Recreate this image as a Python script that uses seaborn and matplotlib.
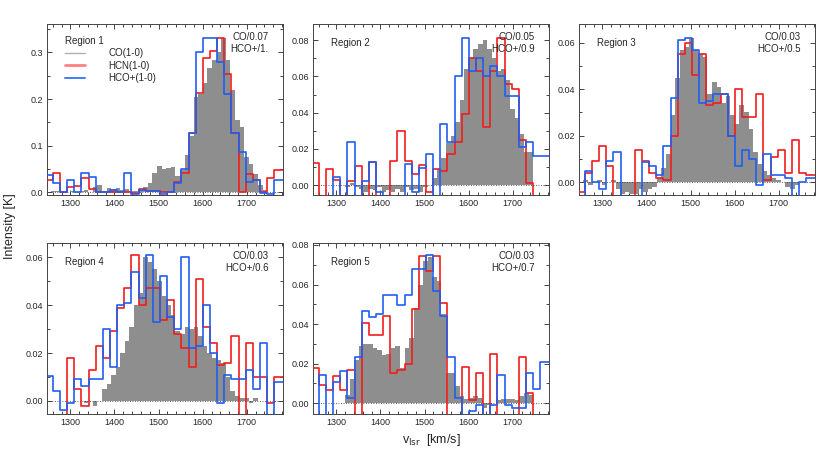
import numpy as np
import pandas as pd
import matplotlib
matplotlib.use('Agg')
import matplotlib.pyplot as plt
from matplotlib.lines import Line2D
from matplotlib.ticker import MultipleLocator, FormatStrFormatter
import seaborn as sns

# channel grids in km/s (HCN/HCO+ cube and CO cube)
hcn_edges = 1244.0 + 16.2 * np.arange(35)
hcn_v = hcn_edges[:-1] + 8.1
co_edges = 1246.8 + 10.4 * np.arange(49)
co_v = co_edges[:-1] + 5.2

# Region 1
co_1 = [0.002, 0.003, 0.004, 0.002, 0.001, 0.003, 0.002, 0.004, 0.006, 0.002, 0.012, 0.015,
        0.004, 0.010, 0.008, 0.009, 0.006, 0.007, 0.004, 0.003, 0.006, 0.012, 0.020, 0.042,
        0.056, 0.050, 0.053, 0.055, 0.035, 0.048, 0.080, 0.120, 0.205, 0.210, 0.235, 0.266,
        0.283, 0.300, 0.330, 0.284, 0.220, 0.155, 0.140, 0.077, 0.062, 0.040, 0.016, 0.006]
hcn_1 = [0.026, 0.041, 0.002, 0.011, 0.013, 0.030, 0.008, 0.000, 0.000, 0.000, 0.001, 0.000,
         -0.002, 0.008, 0.004, 0.003, 0.000, 0.000, 0.023, 0.041, 0.127, 0.213, 0.288, 0.304,
         0.330, 0.254, 0.128, 0.002, 0.040, 0.026, 0.000, 0.030, 0.049, 0.049]
hcop_1 = [0.037, 0.021, 0.000, 0.027, 0.001, 0.042, 0.034, 0.001, 0.000, 0.006, 0.000, 0.041,
          -0.003, 0.005, 0.004, 0.003, -0.003, 0.000, 0.020, 0.050, 0.127, 0.300, 0.330, 0.330,
          0.280, 0.210, 0.128, 0.087, 0.023, 0.026, -0.002, -0.003, 0.026, 0.026]

# Region 2
co_2 = [0.0, 0.0, 0.0, 0.0, 0.0, 0.0, 0.0, -0.001, 0.001, -0.001, -0.002, -0.004,
        -0.002, -0.003, -0.001, -0.004, -0.003, -0.004, -0.002, -0.004, -0.001, -0.003, -0.002, -0.004,
        -0.001, 0.000, 0.004, 0.009, 0.015, 0.023, 0.027, 0.035, 0.047, 0.064, 0.070, 0.075,
        0.078, 0.080, 0.075, 0.070, 0.063, 0.064, 0.058, 0.042, 0.037, 0.028, 0.018, 0.018]
hcn_2 = [0.012, -0.008, 0.009, 0.003, -0.008, 0.002, 0.0105, -0.006, 0.0125, -0.008, -0.008, 0.0135,
         0.030, 0.0135, 0.006, 0.011, -0.004, 0.009, 0.008, 0.017, 0.024, 0.039, 0.070, 0.063,
         0.032, 0.063, 0.081, 0.056, 0.053, 0.025, 0.001, -0.008, -0.008, -0.008]
hcop_2 = [-0.008, -0.008, -0.006, 0.0045, -0.008, 0.024, -0.006, 0.002, 0.0125, -0.004, -0.008, -0.008,
          -0.008, 0.0115, -0.004, 0.0095, 0.017, -0.008, 0.034, 0.024, 0.060, 0.081, 0.063, 0.070,
          0.060, 0.066, 0.060, 0.049, 0.049, 0.021, 0.024, 0.016, 0.016, 0.016]

# Region 3
co_3 = [0.0, 0.001, -0.001, 0.0, 0.001, -0.001, 0.0, 0.001, -0.003, -0.005, -0.004, -0.005,
        -0.005, -0.003, -0.004, -0.003, -0.002, 0.002, 0.006, 0.012, 0.029, 0.045, 0.057, 0.058,
        0.062, 0.057, 0.055, 0.054, 0.038, 0.043, 0.041, 0.034, 0.037, 0.029, 0.025, 0.033,
        0.030, 0.023, 0.013, 0.008, 0.005, 0.003, 0.002, 0.001, 0.0, -0.002, -0.003, -0.001]
hcn_3 = [-0.004, 0.004, 0.009, 0.0155, 0.007, -0.006, -0.006, -0.006, 0.014, 0.009, 0.004, 0.002,
         0.001, 0.020, 0.055, 0.060, 0.046, 0.055, 0.033, 0.034, 0.038, 0.020, 0.040, 0.028,
         0.028, 0.038, 0.001, 0.011, 0.014, 0.004, 0.018, 0.004, 0.003, 0.003]
hcop_3 = [-0.006, 0.005, 0.0, -0.003, 0.009, 0.013, -0.006, -0.006, -0.006, 0.0085, 0.007, 0.003,
          0.0155, 0.036, 0.061, 0.062, 0.057, 0.034, 0.035, 0.038, 0.038, 0.020, 0.007, 0.014,
          0.010, -0.001, 0.012, 0.003, 0.003, 0.002, -0.006, 0.0, 0.002, 0.002]

# Region 4
co_4 = [0.0, 0.0, 0.0, 0.0, 0.0, 0.0, 0.0, 0.0, -0.001, 0.0, -0.002, 0.0,
        0.005, 0.007, 0.011, 0.014, 0.020, 0.025, 0.031, 0.040, 0.045, 0.060, 0.058, 0.055,
        0.050, 0.044, 0.040, 0.036, 0.029, 0.028, 0.031, 0.030, 0.031, 0.027, 0.023, 0.020,
        0.018, 0.017, 0.016, 0.010, 0.004, 0.002, 0.001, 0.001, -0.001, 0.001, 0.0, 0.0]
hcn_4 = [-0.006, -0.006, -0.006, 0.018, 0.005, -0.002, 0.013, 0.023, 0.018, 0.029, 0.039, 0.047,
         0.061, 0.040, 0.047, 0.047, 0.034, 0.042, 0.028, 0.022, 0.014, 0.051, 0.031, 0.024,
         0.015, 0.016, 0.027, -0.006, 0.024, 0.010, 0.010, -0.001, 0.010, 0.010]
hcop_4 = [0.0103, 0.004, -0.004, -0.001, 0.009, 0.006, 0.009, 0.009, 0.030, 0.014, 0.040, 0.041,
          0.054, 0.043, 0.061, 0.033, 0.052, 0.035, 0.030, 0.060, 0.022, 0.023, 0.040, 0.020,
          -0.001, 0.011, 0.009, 0.009, 0.013, 0.005, 0.024, -0.006, 0.008, 0.008]

# Region 5
co_5 = [0.0, 0.0, 0.0, 0.0, 0.0, 0.0, 0.0, 0.004, 0.012, 0.022, 0.029, 0.030,
        0.030, 0.028, 0.027, 0.0245, 0.025, 0.028, 0.029, 0.018, 0.028, 0.033, 0.048, 0.060,
        0.072, 0.074, 0.064, 0.062, 0.045, 0.015, 0.015, 0.0085, 0.0035, 0.002, 0.0025, 0.0035,
        0.0025, -0.0025, -0.001, 0.0, 0.0017, 0.002, 0.002, 0.002, 0.0017, 0.0035, 0.005, 0.004]
hcn_5 = [0.018, 0.009, 0.0068, 0.0135, 0.0068, 0.0169, -0.006, 0.0405, 0.0346, 0.0346, 0.044, 0.015,
         0.0169, 0.020, 0.0476, 0.0743, 0.067, 0.0743, 0.0507, -0.006, -0.006, 0.0182, 0.0017, 0.015,
         -0.006, 0.025, -0.006, -0.006, -0.006, 0.0233, 0.005, -0.006, -0.006, -0.006]
hcop_5 = [-0.006, 0.0143, -0.006, 0.0105, 0.016, 0.0025, 0.0233, 0.0468, 0.0436, 0.0453, 0.0549, 0.0549,
          0.0498, 0.0549, 0.068, 0.068, 0.0747, 0.0566, 0.0443, 0.0233, 0.0025, -0.006, -0.004, -0.001,
          -0.006, -0.001, 0.0144, -0.001, -0.0025, -0.0025, 0.015, 0.007, 0.0206, 0.0206]

region_names = ['Region 1', 'Region 2', 'Region 3', 'Region 4', 'Region 5']
scale_labels = ['CO/0.07\nHCO+/1.', 'CO/0.05\nHCO+/0.9', 'CO/0.03\nHCO+/0.5',
                'CO/0.03\nHCO+/0.6', 'CO/0.03\nHCO+/0.7']
co_all = [co_1, co_2, co_3, co_4, co_5]
hcn_all = [hcn_1, hcn_2, hcn_3, hcn_4, hcn_5]
hcop_all = [hcop_1, hcop_2, hcop_3, hcop_4, hcop_5]
y_tops = [0.361, 0.089, 0.068, 0.066, 0.081]

sns.set_style('ticks')
plt.rcParams['font.family'] = ['Liberation Sans', 'DejaVu Sans']

GRAY = '#8e8e8e'
RED = '#f21c1c'
BLUE = '#1f5ef2'

fig = plt.figure(figsize=(8.3, 4.53), dpi=100)
W, H = 830, 453
boxes = [(47, 24), (313, 24), (579, 24), (47, 243), (313, 243)]
pw, ph = 236, 171

for i, (x0, y0) in enumerate(boxes):
    ax = fig.add_axes([x0 / W, 1 - (y0 + ph) / H, pw / W, ph / H])
    co_df = pd.DataFrame({'v': co_v, 'k': co_all[i]})
    line_df = pd.DataFrame({'v': hcn_v, 'hcn': hcn_all[i], 'hcop': hcop_all[i]})
    sns.histplot(data=co_df, x='v', weights='k', bins=list(co_edges), element='step',
                 fill=True, color=GRAY, alpha=1, linewidth=0, ax=ax, zorder=1)
    ax.axhline(0, color='#333333', lw=0.6, ls=(0, (1, 2)), zorder=2)
    sns.histplot(data=line_df, x='v', weights='hcn', bins=list(hcn_edges), element='step',
                 fill=False, color=RED, linewidth=1.2, ax=ax, zorder=3)
    sns.histplot(data=line_df, x='v', weights='hcop', bins=list(hcn_edges), element='step',
                 fill=False, color=BLUE, linewidth=1.2, ax=ax, zorder=4)

    ax.set_xlim(1247, 1782)
    ax.set_ylim(-0.0055, y_tops[i])
    ax.set_xlabel('')
    ax.set_ylabel('')
    ax.xaxis.set_major_locator(MultipleLocator(100))
    ax.xaxis.set_minor_locator(MultipleLocator(20))
    if i == 0:
        ax.yaxis.set_major_locator(MultipleLocator(0.1))
        ax.yaxis.set_minor_locator(MultipleLocator(0.05))
        ax.yaxis.set_major_formatter(FormatStrFormatter('%.1f'))
    else:
        ax.yaxis.set_major_locator(MultipleLocator(0.02))
        ax.yaxis.set_minor_locator(MultipleLocator(0.01))
        ax.yaxis.set_major_formatter(FormatStrFormatter('%.2f'))
    ax.tick_params(which='both', direction='in', top=True, right=True, width=0.6,
                   labelsize=6.5, pad=3)
    ax.tick_params(which='major', length=3.5)
    ax.tick_params(which='minor', length=2)
    for sp in ax.spines.values():
        sp.set_linewidth(0.7)
        sp.set_color('#444444')

    ax.text(0.94, 0.955, scale_labels[i], transform=ax.transAxes, ha='right', va='top',
            fontsize=7, linespacing=1.3)
    if i == 0:
        handles = [Line2D([], [], color='#b0b0b0', lw=1.0),
                   Line2D([], [], color='#ff8080', lw=2.0),
                   Line2D([], [], color='#3f7cff', lw=1.4)]
        ax.legend(handles, ['CO(1-0)', 'HCN(1-0)', 'HCO+(1-0)'], title=region_names[i],
                  loc='upper left', bbox_to_anchor=(0.075, 0.93), frameon=False,
                  fontsize=7, title_fontsize=7, alignment='left', borderpad=0,
                  borderaxespad=0, handlelength=2.1, handletextpad=2.4, labelspacing=0.25)
    else:
        ax.text(0.075, 0.89, region_names[i], transform=ax.transAxes, ha='left',
                va='center', fontsize=7)

fig.text(10 / W, 0.5, 'Intensity [K]', rotation=90, ha='center', va='center', fontsize=9)
fig.text(431 / W, 1 - 440 / H, r'v$_{\rm lsr}$  [km/s]', ha='center', va='center', fontsize=9)

fig.savefig('out.png', dpi=100)
